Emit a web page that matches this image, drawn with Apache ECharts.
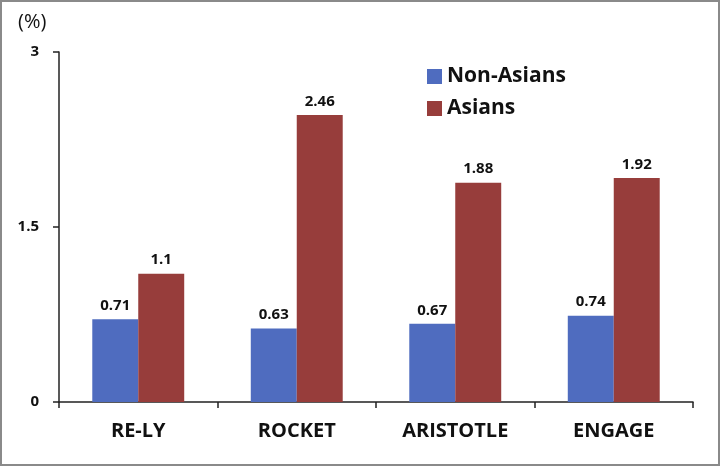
<!DOCTYPE html>
<html><head><meta charset="utf-8">
<script src="https://cdn.jsdelivr.net/npm/echarts@6/dist/echarts.min.js"></script>
<style>
html,body{margin:0;padding:0;background:#fff;}
#frame{position:absolute;left:0;top:0;width:716px;height:462px;border:2px solid #8a8a8a;}
#c{position:absolute;left:0;top:0;width:720px;height:466px;}
</style></head>
<body><div id="frame"></div><div id="c"></div>
<script>
var categories = ['RE-LY', 'ROCKET', 'ARISTOTLE', 'ENGAGE'];
var nonAsians = [0.71, 0.63, 0.67, 0.74];
var asians = [1.1, 2.46, 1.88, 1.92];
var yTicks = [0, 1.5, 3];
var seriesNames = ['Non-Asians', 'Asians'];

var chart = echarts.init(document.getElementById('c'));
var font = '"Open Sans", "DejaVu Sans", sans-serif';
var lbl = {show: true, position: 'top', fontFamily: font, fontWeight: 'bold', fontSize: 15, color: '#111', distance: 6,
  formatter: function(p){ return String(p.value); }};
chart.setOption({
  animation: false,
  textStyle: {fontFamily: font},
  grid: {left: 59, right: 27, top: 52, bottom: 64, containLabel: false},
  legend: {
    orient: 'vertical', left: 422, top: 61, itemWidth: 15, itemHeight: 15, itemGap: 11,
    icon: 'rect',
    textStyle: {fontFamily: font, fontWeight: 'bold', fontSize: 21, color: '#111'},
    data: seriesNames
  },
  graphic: [{type: 'text', left: 18, top: 12, style: {text: '(%)', fontFamily: font, fontSize: 20, fill: '#111'}}],
  xAxis: {
    type: 'category', data: categories,
    axisLine: {lineStyle: {color: '#222', width: 1.5}},
    axisTick: {show: true, length: 6, lineStyle: {color: '#222', width: 1.5}},
    axisLabel: {fontFamily: font, fontWeight: 'bold', fontSize: 20, color: '#111', margin: 19}
  },
  yAxis: {
    type: 'value', min: yTicks[0], max: yTicks[yTicks.length-1], interval: yTicks[1]-yTicks[0],
    splitLine: {show: false},
    axisLine: {show: true, lineStyle: {color: '#222', width: 1.5}},
    axisTick: {show: true, length: 6, lineStyle: {color: '#222', width: 1.5}},
    axisLabel: {fontFamily: font, fontWeight: 'bold', fontSize: 15, color: '#111', margin: 20,
      formatter: function(v){ return String(v); }}
  },
  series: [
    {name: seriesNames[0], type: 'bar', data: nonAsians, barGap: '0%', barCategoryGap: '42%',
     itemStyle: {color: '#4F6CBF'}, label: lbl},
    {name: seriesNames[1], type: 'bar', data: asians, barGap: '0%', barCategoryGap: '42%',
     itemStyle: {color: '#973D3B'}, label: lbl}
  ]
});
</script></body></html>
